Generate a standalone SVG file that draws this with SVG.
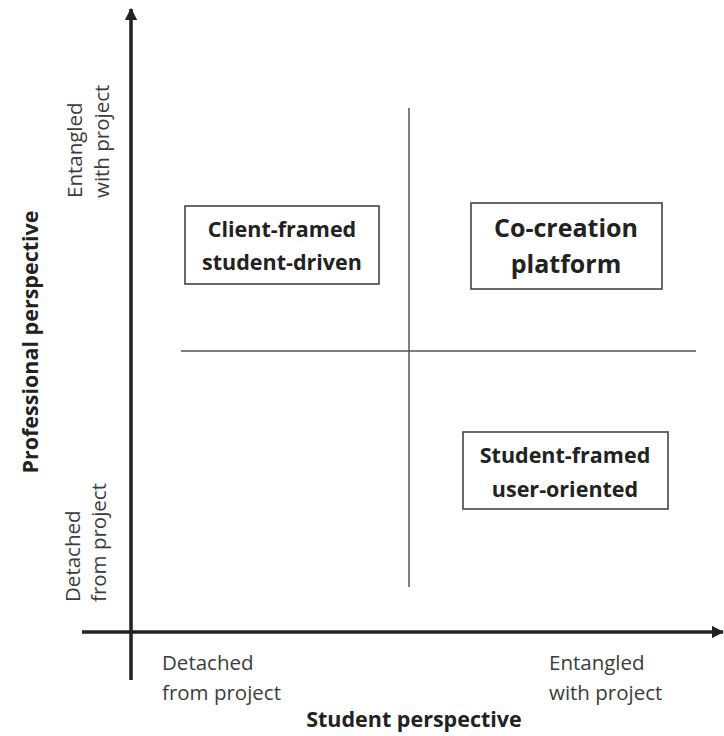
<svg xmlns="http://www.w3.org/2000/svg" width="724" height="736" viewBox="0 0 724 736">
<style>
.axis{stroke:#222;stroke-width:3.5;fill:none}
.quad{stroke:#555;stroke-width:1.5;fill:none}
.box{fill:#fff;stroke:#444;stroke-width:1.6}
.lbl{font-family:"Open Sans","Liberation Sans",sans-serif;font-size:20.5px;fill:#3c3c3c}
.bt{font-family:"Open Sans","Liberation Sans",sans-serif;font-weight:bold;font-size:21.5px;fill:#222;text-anchor:middle}
.big{font-size:25px}
.ax{font-family:"Open Sans","Liberation Sans",sans-serif;font-weight:bold;font-size:21.5px;fill:#222;text-anchor:middle}
</style>
<defs>
<marker id="ah" viewBox="0 0 10 10" refX="9" refY="5" markerWidth="3.5" markerHeight="3.5" markerUnits="strokeWidth" orient="auto">
<path d="M0,0 L10,5 L0,10 z" fill="#222"/>
</marker>
</defs>
<rect width="724" height="736" fill="#fff"/>
<g id="connectors">
<line class="axis" x1="131" y1="680" x2="131" y2="9" marker-end="url(#ah)"/>
<line class="axis" x1="82" y1="632" x2="723" y2="632" marker-end="url(#ah)"/>
<line class="quad" x1="409" y1="108" x2="409" y2="587"/>
<line class="quad" x1="181" y1="351" x2="696" y2="351"/>
</g>
<g id="axis-labels">
<text class="ax" transform="translate(38,342) rotate(-90)">Professional perspective</text>
<text class="ax" x="414" y="727">Student perspective</text>
<text class="lbl" transform="translate(82,198) rotate(-90)">Entangled</text>
<text class="lbl" transform="translate(109,198) rotate(-90)">with project</text>
<text class="lbl" transform="translate(80,602) rotate(-90)">Detached</text>
<text class="lbl" transform="translate(106,602) rotate(-90)">from project</text>
<text class="lbl" x="162" y="670">Detached</text>
<text class="lbl" x="162" y="700">from project</text>
<text class="lbl" x="549" y="670">Entangled</text>
<text class="lbl" x="549" y="700">with project</text>
</g>
<g id="client-framed">
<rect class="box" x="185" y="206" width="194" height="78"/>
<text class="bt" x="282" y="237">Client-framed</text>
<text class="bt" x="282" y="270">student-driven</text>
</g>
<g id="co-creation">
<rect class="box" x="471" y="203" width="191" height="86"/>
<text class="bt big" x="566" y="237">Co-creation</text>
<text class="bt big" x="566" y="273">platform</text>
</g>
<g id="student-framed">
<rect class="box" x="463" y="432" width="205" height="77"/>
<text class="bt" x="565" y="463">Student-framed</text>
<text class="bt" x="565" y="497">user-oriented</text>
</g>
</svg>
